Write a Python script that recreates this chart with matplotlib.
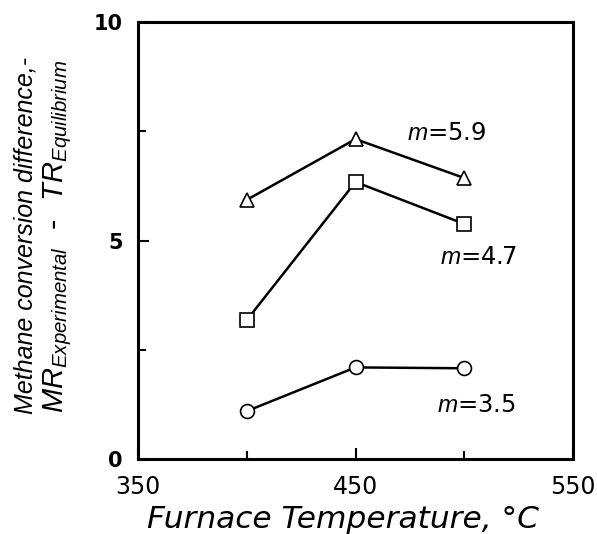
import matplotlib
matplotlib.use('Agg')
import matplotlib.pyplot as plt

matplotlib.rcParams['mathtext.fontset'] = 'custom'
matplotlib.rcParams['mathtext.it'] = 'Liberation Sans:italic'
matplotlib.rcParams['mathtext.rm'] = 'Liberation Sans:italic'

# furnace temperature, degC
temps = [400, 450, 500]
# methane conversion difference for each m
m59 = [5.93, 7.32, 6.43]
m47 = [3.18, 6.34, 5.38]
m35 = [1.10, 2.10, 2.08]

fig = plt.figure(figsize=(5.97, 5.34), dpi=100)
ax = fig.add_axes([0.231, 0.140, 0.729, 0.819])

style = dict(color='k', lw=1.8, mfc='white', mec='k', mew=1.2, ms=10, clip_on=False)
ax.plot(temps, m59, marker='^', **style)
ax.plot(temps, m47, marker='s', **style)
ax.plot(temps, m35, marker='o', **style)

tfont = dict(fontsize=17.5, family='DejaVu Sans')
ax.text(473.5, 7.46, r'$m$=5.9', ha='left', va='center', **tfont)
ax.text(489, 4.62, r'$m$=4.7', ha='left', va='center', **tfont)
ax.text(487.5, 1.24, r'$m$=3.5', ha='left', va='center', **tfont)

ax.set_xlim(350, 550)
ax.set_ylim(0, 10)
ax.set_xticks([350, 450, 550])
ax.set_xticks([400, 500], minor=True)
ax.set_yticks([0, 5, 10])
ax.set_yticks([2.5, 7.5], minor=True)
ax.tick_params(which='both', direction='in', width=1.5, top=False, right=False)
ax.tick_params(which='major', length=8)
ax.tick_params(which='minor', length=6)
ax.tick_params(axis='x', labelsize=17, pad=11)
ax.tick_params(axis='y', labelsize=15, pad=11)
for lab in ax.get_yticklabels():
    lab.set_fontweight('bold')
for sp in ax.spines.values():
    sp.set_linewidth(2.2)

ax.set_xlabel('Furnace Temperature, °C', fontsize=22.5, style='italic')
ax.xaxis.set_label_coords(0.471, -0.105)

fig.text(0.042, 0.56, 'Methane conversion difference,-', rotation=90,
         ha='center', va='center', fontsize=18, family='Liberation Sans', style='italic')
fig.text(0.097, 0.558, r'$MR_{Experimental}$  -  $TR_{Equilibrium}$', rotation=90,
         ha='center', va='center', fontsize=21)

fig.savefig('out.png', dpi=100)
